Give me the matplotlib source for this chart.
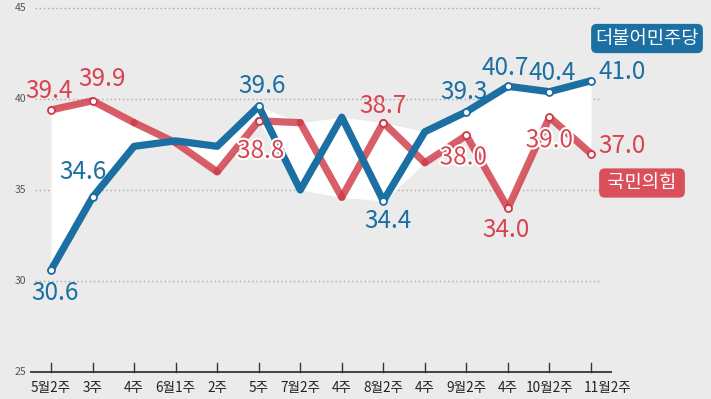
import matplotlib.pyplot as plt
import matplotlib.patheffects as pe

plt.rcParams['font.family'] = ['Noto Sans CJK KR', 'DejaVu Sans']

# 조사 주차
weeks = ['5월2주', '3주', '4주', '6월1주', '2주', '5주', '7월2주', '4주',
         '8월2주', '4주', '9월2주', '4주', '10월2주', '11월2주']
minju = [30.6, 34.6, 37.4, 37.7, 37.4, 39.6, 35.0, 39.0, 34.4, 38.2, 39.3, 40.7, 40.4, 41.0]
gukhim = [39.4, 39.9, 38.7, 37.6, 36.0, 38.8, 38.7, 34.6, 38.7, 36.5, 38.0, 34.0, 39.0, 37.0]
labeled = [0, 1, 5, 8, 10, 11, 12, 13]
yticks = [25, 30, 35, 40, 45]

# 라벨 위치 (픽셀 오프셋, 아래쪽이 +)
off_minju = {0: (4, 23), 1: (-10, -25), 5: (3, -20), 8: (5, 20),
             10: (-2, -20), 11: (-3, -18), 12: (3, -19), 13: (31, -9)}
off_gukhim = {0: (-2, -19), 1: (10, -22), 5: (2, 30), 8: (0, -17),
              10: (-3, 22), 11: (-2, 22), 12: (0, 23), 13: (31, -8)}

blue = '#1b6fa2'
red = '#d03a47'
bg = '#ebebeb'

fig = plt.figure(figsize=(7.11, 3.99), dpi=100)
fig.patch.set_facecolor(bg)
ax = fig.add_axes([0, 0, 1, 1])
ax.set_facecolor(bg)
ax.axis('off')

px = 41.54   # 한 칸 픽셀
py = 18.2    # 1%p 픽셀
ax.set_xlim(-51 / px, (711 - 51) / px)
ax.set_ylim(45 - (399 - 8) / py, 45 + 8 / py)

xs = list(range(len(weeks)))

# 격자
for v in yticks[1:]:
    ax.plot([-16 / px, 549 / px], [v, v], color='#a8a8a8', lw=1, ls=(0, (1, 2)), zorder=1)
for v in yticks:
    ax.text(-25 / px, v, str(v), ha='right', va='center', fontsize=7.5, color='#555555')

# 두 선 사이 흰 영역
lo = [min(a, b) for a, b in zip(minju, gukhim)]
hi = [max(a, b) for a, b in zip(minju, gukhim)]
ax.fill_between(xs, lo, hi, color='white', lw=0, zorder=2)

# 축
ax.plot([-21 / px, 561 / px], [25, 25], color='#3a3232', lw=1.3, zorder=3, solid_capstyle='butt')
for i, w in enumerate(weeks):
    ax.plot([i, i], [25, 25 + 9 / py], color='#3a3232', lw=1, zorder=3)
    shift = 17 / px if i == len(weeks) - 1 else 0
    ax.text(i + shift, 25 - 16 / py, w, ha='center', va='center', fontsize=9.8,
            color='#222222')

# 국민의힘 (반투명, 구간마다)
for i in range(len(xs) - 1):
    ax.plot(xs[i:i + 2], gukhim[i:i + 2], color=red, alpha=0.82, lw=5.2,
            solid_capstyle='round', zorder=4)
ax.plot([xs[i] for i in labeled], [gukhim[i] for i in labeled], 'o', ms=5,
        mfc='white', mec=red, mew=1.3, zorder=6)

# 더불어민주당
ax.plot(xs, minju, color=blue, lw=5.2, solid_capstyle='round',
        solid_joinstyle='round', zorder=5)
ax.plot([xs[i] for i in labeled], [minju[i] for i in labeled], 'o', ms=5,
        mfc='white', mec=blue, mew=1.3, zorder=7)

halo = [pe.withStroke(linewidth=3, foreground='white')]
for i in labeled:
    dx, dy = off_minju[i]
    ax.annotate(f'{minju[i]:.1f}', (xs[i], minju[i]), xytext=(dx * 0.72, -dy * 0.72),
                textcoords='offset points', ha='center', va='center',
                fontsize=17.5, color=blue, zorder=8)
    dx, dy = off_gukhim[i]
    t = ax.annotate(f'{gukhim[i]:.1f}', (xs[i], gukhim[i]), xytext=(dx * 0.72, -dy * 0.72),
                    textcoords='offset points', ha='center', va='center',
                    fontsize=17.5, color='#d9434f', zorder=8)
    if i in (5, 10, 12):
        t.set_path_effects(halo)

# 정당 이름표
ax.text(647 / px - 51 / px, 45 - (38.5 - 8) / py, '더불어민주당', ha='center', va='center',
        fontsize=13.5, color='white',
        bbox=dict(boxstyle='round,pad=0.22,rounding_size=0.3', fc=blue, ec='none'), zorder=9)
ax.text(642 / px - 51 / px, 45 - (183 - 8) / py, ' 국민의힘 ', ha='center', va='center',
        fontsize=13.5, color='white',
        bbox=dict(boxstyle='round,pad=0.22,rounding_size=0.3', fc='#d9505a', ec='none'),
        zorder=9)

fig.savefig('out.png', dpi=100, facecolor=bg)
